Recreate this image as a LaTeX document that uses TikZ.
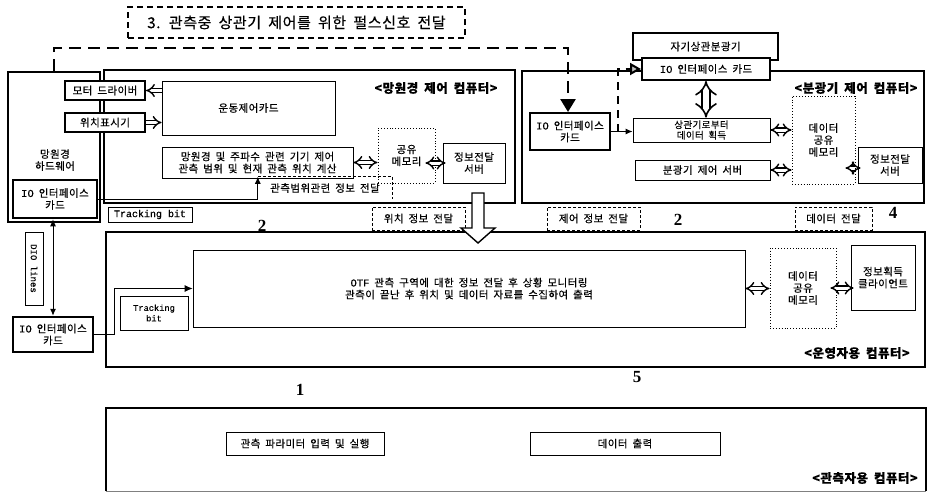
\documentclass[tikz,border=0pt]{standalone}
\usepackage{fontspec}
\setmainfont[LetterSpace=4,WordSpace=1.8,FakeBold=0.3]{Noto Sans CJK KR}
\newfontfamily\lat[FakeBold=0.4]{Liberation Mono}
\newfontfamily\numf{Liberation Serif}
\usetikzlibrary{arrows.meta,calc}
\begin{document}
\begin{tikzpicture}[x=1pt,y=-1pt,
  every node/.style={inner sep=1pt, align=center, font=\fontsize{10.5}{12}\selectfont},
  thk/.style={draw, line width=2pt, fill=white},
  thn/.style={draw, line width=0.8pt, fill=white},
  dotb/.style={draw, line width=0.9pt, dotted},
  dashb/.style={line width=0.8pt, dash pattern=on 3pt off 2pt},
  dbl/.style={double, double distance=3pt, line width=1.4pt, {Implies}-{Implies}},
  ttl/.style={font=\fontsize{12.5}{14}\selectfont\bfseries},
  num/.style={font=\numf\fontsize{17}{18}\selectfont\bfseries},
  pulse/.style={line width=2.6pt, dash pattern=on 12pt off 7pt},
  sz/.style 2 args={minimum width=#1pt, minimum height=#2pt},
  thinarrow/.style={line width=0.8pt, -{Latex[length=7pt,width=6pt]}},
]
\useasboundingbox (0,0) rectangle (931,493);
\fill[white] (0,0) rectangle (931,493);

% top label
\node[draw, line width=1.6pt, dash pattern=on 6pt off 4pt, sz={337}{31}, font=\fontsize{15}{17}\selectfont] (lbl) at (296.5,22.5) {3. 관측중 상관기 제어를 위한 펄스신호 전달};

% outer boxes
\node[thk, sz={92}{150}] (hw) at (54,147) {};
\node (hwt) at (55,160) {망원경\\하드웨어};
\node[thk, sz={411}{133}] (tcc) at (309.5,136.5) {};
\node[thk, sz={402}{132}] (scc) at (723,137) {};
\node[thk, sz={819}{135}] (opc) at (515.5,299.5) {};
\node[sz={820}{83}] (obs) at (516,449.5) {};
\draw[line width=2pt] (obs.south west) -- (obs.north west) -- (obs.north east) -- (obs.south east);
\draw[line width=0.6pt, gray] (obs.south west) -- (obs.south east);

% telescope control computer
\node[ttl] (t1) at (436,88) {<망원경 제어 컴퓨터>};
\node[thn, sz={173}{54}] (mcc) at (248.5,108) {운동제어카드};
\node[thk, sz={80}{19}] (md) at (105,90.5) {모터 드라이버};
\node[thk, sz={80}{19}] (pd) at (105,122.5) {위치표시기};
\node[thn, sz={191}{31}] (calc) at (257.5,162.5) {망원경 및 주파수 관련 기기 제어\\관측 범위 및 현재 관측 위치 계산};
\node[sz={134}{22}] (rng) at (325,188) {관측범위관련 정보 전달};
\node[dotb, sz={57}{55}] (shm1) at (406.5,155.5) {공유\\메모리};
\node[thn, sz={62}{40}] (srv1) at (474,163) {정보전달\\서버};
\node[thk, line width=2.5pt, sz={84}{38}] (hwio) at (55,199) {{\lat IO} 인터페이스\\카드};
\node[thn, sz={84}{15}, font=\lat\fontsize{10}{11}\selectfont] (tb1) at (150,214.5) {Tracking bit};
\node[dashb, draw, sz={93}{23}] (pos) at (418.5,218.5) {위치 정보 전달};
\node[num] (n2a) at (262,226) {2};

% spectrometer control computer
\node[thk, sz={145}{27}] (spec) at (705.5,46.5) {자기상관분광기};
\node[thk, sz={128}{22}] (io2) at (706,69) {{\lat IO} 인터페이스 카드};
\node[ttl] (t2) at (856,88) {<분광기 제어 컴퓨터>};
\node[thk, sz={80}{37}] (io3) at (570,131.5) {{\lat IO} 인터페이스\\카드};
\node[thn, sz={137}{24}, font=\fontsize{9.5}{10.5}\selectfont] (acq) at (701.5,130) {상관기로부터\\데이터 획득};
\node[thn, sz={135}{20}] (ssrv) at (702.5,170) {분광기 제어 서버};
\node[dotb, sz={63}{88}] (shm2) at (823.5,140) {데이터\\공유\\메모리};
\node[thn, sz={64}{36}] (srv2) at (890,165) {정보전달\\서버};
\node[dashb, draw, sz={93}{23}] (ctl) at (593.5,218.5) {제어 정보 전달};
\node[num] (n2b) at (678,220) {2};
\node[dashb, draw, sz={77}{23}] (dat) at (833.5,218.5) {데이터 전달};
\node[num] (n4) at (893,213) {4};

% operator computer
\node[ttl] (t3) at (857,353) {<운영자용 컴퓨터>};
\node[thn, sz={552}{77}] (big) at (469,288.5) {{\lat OTF} 관측 구역에 대한 정보 전달 후 상황 모니터링\\관측이 끝난 후 위치 및 데이터 자료를 수집하여 출력};
\node[thn, sz={68}{34}, font=\lat\fontsize{8.7}{10.5}\selectfont] (tb2) at (154,313) {Tracking\\bit};
\node[dotb, sz={66}{80}] (shm3) at (803,288) {데이터\\공유\\메모리};
\node[thn, sz={64}{65}] (cli) at (883,277.5) {정보획득\\클라이언트};
\node[thk, line width=2.5pt, sz={80}{35}] (io4) at (53,334.5) {{\lat IO} 인터페이스\\카드};
\node[thn, rotate=-90, sz={73}{18}, font=\lat\fontsize{9}{10}\selectfont] (dio) at (34,268.5) {DIO lines};
\node[num] (n1) at (300,390) {1};
\node[num] (n5) at (637,377) {5};

% observer computer
\node[thn, sz={158}{23}] (p1) at (305,443.5) {관측 파라미터 입력 및 실행};
\node[thn, sz={190}{23}] (p2) at (625,443.5) {데이터 출력};
\node[ttl] (t4) at (865,478) {<관측자용 컴퓨터>};

% hollow arrows
\draw[double, double distance=3pt, line width=1.4pt, {Implies}-] (md.east) -- (md.east -| mcc.west);
\draw[double, double distance=3pt, line width=1.4pt, -{Implies}] (pd.east) -- (pd.east -| mcc.west);
\draw[dbl] (calc.east) -- (calc.east -| shm1.west);
\draw[dbl] ($(shm1.east|-srv1.west)+(-10,0)$) -- ($(srv1.west)+(3,0)$);
\draw[dbl] (acq.east) -- (acq.east -| shm2.west);
\draw[dbl] (ssrv.east) -- (ssrv.east -| shm2.west);
\draw[dbl] ($(shm2.east|-srv2.west)+(-10,3)$) -- ($(srv2.west)+(3,3)$);
\draw[dbl, double distance=6pt, line width=1.6pt] (io2.south) -- (io2.south |- acq.north);
\draw[dbl] (big.east) -- (big.east -| shm3.west);
\draw[dbl] ($(shm3.east)+(-6,0)$) -- ($(shm3.east -| cli.west)+(3,0)$);
\draw[line width=1.4pt, fill=white] (472,193) -- (484,193) -- (484,228) -- (495,228) -- (478,243) -- (461,228) -- (472,228) -- cycle;

% thin connectors
\draw[thinarrow] (hwio.east) -| (rng.north west);
\draw[dashb] (rng.north west) -- (rng.north east) -- (rng.south east);
\draw[line width=1pt, {Latex[length=7pt,width=6pt]}-{Latex[length=7pt,width=6pt]}] (io4.north |- hwio.south) -- (io4.north);
\draw[line width=0.8pt, -{Latex[length=8pt,width=7pt]}] (io4.east) -- ++(20,0) |- (big.west);
\draw[line width=1pt, -{Latex[length=7pt,width=6pt]}] (io3.east) -- (acq.west |- io3.east);

% pulse lines
\coordinate (pa) at (53,48);
\coordinate (pb) at (568,48);
\draw[pulse, -{Triangle[width=15pt,length=13pt]}] (hw.north) -- (hw.north |- pa) -- (pb) -- (pb |- io3.north);
\coordinate (pj) at (618,131.5);
\coordinate (pk) at (618,69);
\draw[line width=2pt, dash pattern=on 8pt off 6pt, -{Triangle[length=11pt,width=12pt,fill=gray!50]}] (pj) -- (pk) -- (io2.west);
\end{tikzpicture}
\end{document}
